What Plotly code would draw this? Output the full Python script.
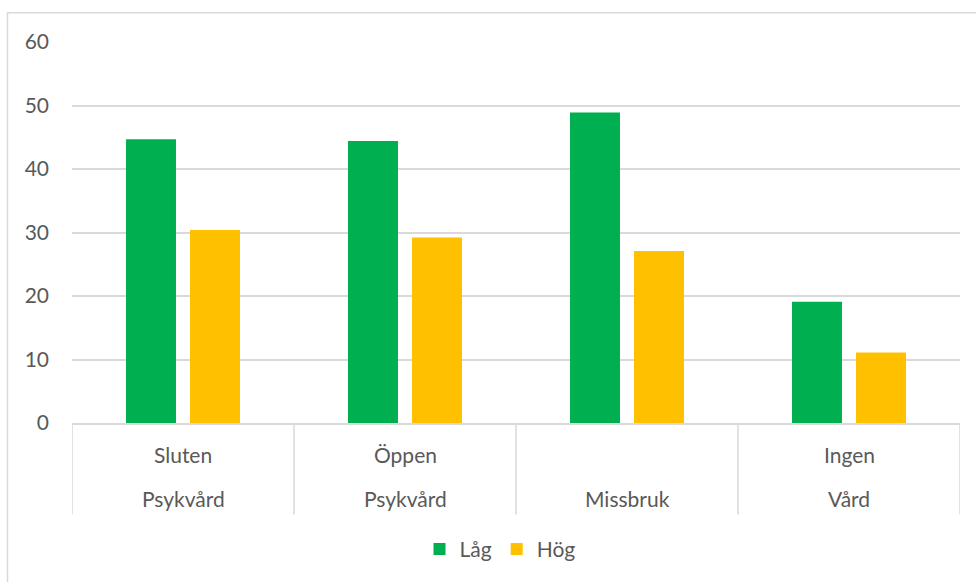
import plotly.graph_objects as go

categories = ["Sluten Psykvård", "Öppen Psykvård", "Missbruk", "Ingen Vård"]
label_top = ["Sluten", "Öppen", "", "Ingen"]
label_bottom = ["Psykvård", "Psykvård", "Missbruk", "Vård"]
lag_values = [44.7, 44.4, 48.9, 19.1]
hog_values = [30.4, 29.2, 27.1, 11.1]
y_ticks = [0, 10, 20, 30, 40, 50, 60]

GREEN = "#00B050"
YELLOW = "#FFC000"
TEXT = "#595959"
GRID = "#D9D9D9"
FONT = "Lato"
FS = 21

fig = go.Figure()
fig.add_trace(go.Bar(name="Låg", x=categories, y=lag_values, marker=dict(color=GREEN, line=dict(width=0))))
fig.add_trace(go.Bar(name="Hög", x=categories, y=hog_values, marker=dict(color=YELLOW, line=dict(width=0))))

W, H = 976, 582
ml, mr, mt, mb = 72, 16, 42, 157
plot_h = H - mt - mb
plot_w = W - ml - mr

# category text rows
for i, c in enumerate(categories):
    if label_top[i]:
        fig.add_annotation(x=c, xref="x", y=0, yref="paper", text=label_top[i], showarrow=False,
                           yanchor="middle", yshift=-31, font=dict(family=FONT, size=FS, color=TEXT))
    fig.add_annotation(x=c, xref="x", y=0, yref="paper", text=label_bottom[i], showarrow=False,
                       yanchor="middle", yshift=-75, font=dict(family=FONT, size=FS, color=TEXT))

# category separators
sep_bottom = -92 / plot_h
for k in range(len(categories) + 1):
    fig.add_shape(type="line", xref="x", yref="paper", x0=k - 0.5, x1=k - 0.5, y0=0, y1=sep_bottom,
                  line=dict(color=GRID, width=1.5))

# outer chart border
fig.add_shape(type="rect", xref="paper", yref="paper",
              x0=(7.5 - ml) / plot_w, x1=(W + 10 - ml) / plot_w,
              y0=-(H + 10 - mt - plot_h) / plot_h, y1=1 + (mt - 12.5) / plot_h,
              line=dict(color=GRID, width=1.5), fillcolor="rgba(0,0,0,0)", layer="below")

fig.update_layout(
    width=W, height=H,
    margin=dict(l=ml, r=mr, t=mt, b=mb),
    paper_bgcolor="white", plot_bgcolor="white",
    barmode="group", bargap=0.4234, bargroupgap=0.219,
    font=dict(family=FONT, size=FS, color=TEXT),
    showlegend=True,
    legend=dict(orientation="h", x=(500 - ml) / plot_w, xanchor="center",
                y=-(552 - mt - plot_h) / plot_h, yanchor="middle",
                font=dict(family=FONT, size=FS, color=TEXT), itemwidth=30, traceorder="normal"),
    xaxis=dict(showticklabels=False, showline=True, linecolor=GRID, linewidth=1.5,
               showgrid=False, ticks="", range=[-0.5, 3.5], fixedrange=True),
    yaxis=dict(range=[0, 60], tickvals=y_ticks, showgrid=True, gridcolor=GRID, gridwidth=1.5,
               zeroline=False, showline=False, ticks="", ticklabelstandoff=22,
               tickfont=dict(family=FONT, size=FS, color=TEXT), fixedrange=True),
)

fig.write_html("out.html", config={"displayModeBar": False})
